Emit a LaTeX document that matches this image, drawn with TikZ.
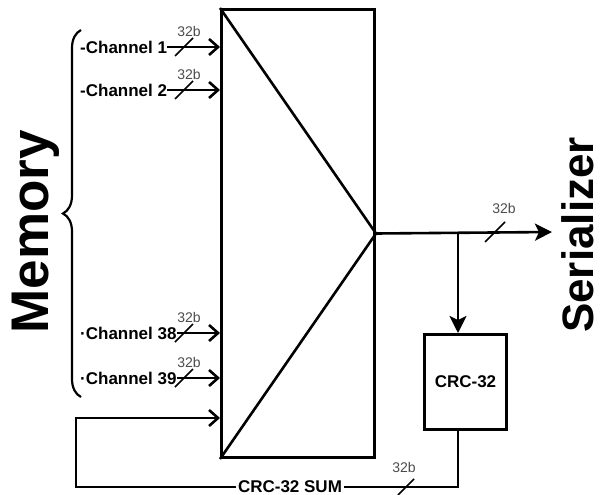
\documentclass[tikz,border=0pt]{standalone}
\usepackage{fontspec}
\setmainfont{Liberation Sans}
\usetikzlibrary{arrows.meta,decorations.pathreplacing,calc}

\begin{document}
\begin{tikzpicture}[x=1pt,y=-1pt,
    wire/.style={line width=2.6pt},
    openhead/.style={-{Straight Barb[length=9pt,width=16pt]}},
    fillhead/.style={-{Stealth[length=17pt,width=17pt,inset=4pt]}},
    buslbl/.style={inner sep=0pt,text=black!70,font=\fontsize{14}{14}\selectfont},
    chlbl/.style={inner sep=0pt,anchor=west,font=\bfseries\fontsize{17}{17}\selectfont}
]
    \useasboundingbox (0,0) rectangle (605,495);

    % mux and crc blocks
    \node[draw, line width=3pt, inner sep=0pt, anchor=north west,
        minimum width=153pt, minimum height=448pt] (mux) at (220,8) {};
    \draw[wire] (mux.north west) -- (mux.east) -- (mux.south west);
    \node[draw, line width=3pt, inner sep=0pt, anchor=north west,
        minimum width=82pt, minimum height=95pt,
        font=\bfseries\fontsize{17}{17}\selectfont] (crc) at (423,333) {CRC-32};

    % side labels
    \node[rotate=90, inner sep=0pt, font=\bfseries\fontsize{53}{53}\selectfont] (mem) at (36,232) {Memory};
    \node[rotate=90, inner sep=0pt, font=\bfseries\fontsize{44}{44}\selectfont] (ser) at (578,235) {Serializer};
    \draw[line width=2.2pt, decorate, decoration={brace, amplitude=18pt}] (81,397) -- (81,30);

    % channel inputs
    \foreach \y/\name/\txt in {47/1/-Channel 1, 90/2/-Channel 2, 333/38/·Channel 38, 378/39/·Channel 39} {
        \node[chlbl] (ch\name) at (80,\y) {\txt};
        \draw[wire, openhead] (ch\name.east) -- (ch\name.east -| mux.west);
        \draw[line width=1.6pt] ($(184,\y)+(-9,9)$) -- ($(184,\y)+(9,-9)$);
        \node[buslbl] (b\name) at (189,\y-16) {32b};
    }

    % output to serializer
    \coordinate (split) at (458,232);
    \coordinate (out) at (552,232);
    \draw[wire, fillhead] (mux.east) -- (out);
    \draw[line width=1.6pt] ($(495,232)+(-10,10)$) -- ($(495,232)+(10,-10)$);
    \node[buslbl] (bout) at (504,208) {32b};
    \draw[wire, fillhead] (split) -- (split |- crc.north);

    % feedback
    \coordinate (fbbot) at (76,487);
    \coordinate (fbin) at (76,418);
    \draw[wire, openhead] (crc.south -| split) |- (fbbot) -- (fbin) -- (fbin -| mux.west);
    \node[fill=white, inner xsep=2pt, inner ysep=0pt, font=\bfseries\fontsize{17}{17}\selectfont] (sum) at (290,487) {CRC-32 SUM};
    \draw[line width=1.6pt] ($(406,487)+(-8,8)$) -- ($(406,487)+(8,-8)$);
    \node[buslbl] (bsum) at (404,467) {32b};
\end{tikzpicture}
\end{document}
